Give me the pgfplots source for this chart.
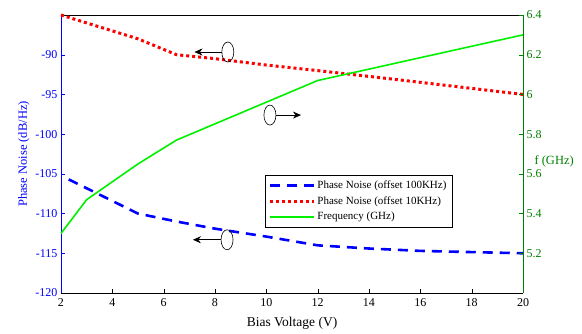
\documentclass[border=0pt]{standalone}
\usepackage{pgfplots}
\pgfplotsset{compat=1.18}
\usetikzlibrary{arrows.meta}
\usepackage{fontspec}
\setmainfont{Liberation Serif}
\definecolor{dgreen}{RGB}{0,128,0}
\definecolor{lgreen}{RGB}{0,240,0}
\begin{document}
\begin{tikzpicture}
\begin{axis}[
  width=462pt, height=278pt, scale only axis,
  xmin=2, xmax=20, ymin=-120, ymax=-85,
  xtick={2,4,...,20}, ytick={-120,-115,...,-90},
  axis x line=box, axis y line*=left,
  xtick pos=bottom, ytick pos=left,
  x axis line style={black, -}, y axis line style={blue, -},
  yticklabel style={blue}, ytick style={blue},
  xticklabel style={yshift=-2pt},
  xtick style={black},
  tick label style={font=\fontsize{12}{14}\selectfont},
  major tick length=4pt,
  /pgf/number format/assume math mode=true,
  xlabel={Bias Voltage (V)},
  ylabel={Phase Noise (dB/Hz)},
  ylabel style={blue, font=\fontsize{12.5}{15}\selectfont, yshift=-1pt},
  xlabel style={font=\fontsize{13.5}{16}\selectfont, yshift=-4pt},
  clip=false,
]
\addplot[blue, line width=2.6pt, dash pattern=on 10pt off 7pt] coordinates {
 (2.3,-105.7) (5,-110) (6.5,-111) (8,-111.9) (10,-112.9) (12,-114) (14,-114.4) (16,-114.7) (20,-115)};
\addplot[red, line width=3pt, dash pattern=on 3pt off 3pt] coordinates {
 (2,-85) (5,-88) (6.5,-90) (8,-90.5) (10,-91.3) (12,-92) (15,-93.1) (20,-95)};
% annotations
\draw[black, semithick] (axis cs:8.5,-89.66) ellipse (6pt and 10pt);
\draw[black, semithick, -{Stealth[length=8pt,width=7pt]}] (axis cs:8.27,-89.66) -- (axis cs:7.2,-89.66);
\draw[black, semithick] (axis cs:10.14,-97.6) ellipse (6pt and 10pt);
\draw[black, semithick, -{Stealth[length=8pt,width=7pt]}] (axis cs:10.38,-97.6) -- (axis cs:11.35,-97.6);
\draw[black, semithick] (axis cs:8.47,-113.3) ellipse (6pt and 10pt);
\draw[black, semithick, -{Stealth[length=8pt,width=7pt]}] (axis cs:8.23,-113.3) -- (axis cs:7.14,-113.3);
% bounding box
\path (rel axis cs:0,0) ++(-61pt,-38pt) coordinate (bbsw);
\path (rel axis cs:1,1) ++(59pt,15pt) coordinate (bbne);
\end{axis}
\begin{axis}[
  width=462pt, height=278pt, scale only axis,
  xmin=2, xmax=20, ymin=5.0, ymax=6.4,
  axis x line=none, axis y line*=right,
  ytick={5.2,5.4,...,6.41},
  y axis line style={dgreen, -},
  yticklabel style={dgreen, /pgf/number format/fixed},
  ytick style={dgreen},
  tick label style={font=\fontsize{12}{14}\selectfont},
  major tick length=4pt,
  /pgf/number format/assume math mode=true,
  legend style={at={(0.441,0.424)}, anchor=north west, draw=black, fill=white,
    font=\fontsize{11}{13}\selectfont, row sep=2.5pt, inner sep=3.5pt},
  legend cell align=left,
  legend image code/.code={\draw[#1] (0pt,0pt) -- (44pt,0pt);},
  clip=false,
]
\addlegendimage{blue, line width=2.6pt, dash pattern=on 10pt off 7pt}
\addlegendentry{Phase Noise (offset 100KHz)}
\addlegendimage{red, line width=3pt, dash pattern=on 3pt off 3pt}
\addlegendentry{Phase Noise (offset 10KHz)}
\addplot[lgreen, line width=1.6pt] coordinates {
 (2,5.30) (3,5.47) (5,5.65) (6.5,5.77) (12,6.07) (20,6.30)};
\addlegendentry{Frequency (GHz)}
\node[dgreen, anchor=west, font=\fontsize{12.5}{15}\selectfont] at (rel axis cs:1,0.475) [xshift=8pt] {f (GHz)};
\end{axis}
\useasboundingbox (bbsw) rectangle (bbne);
\end{tikzpicture}
\end{document}
